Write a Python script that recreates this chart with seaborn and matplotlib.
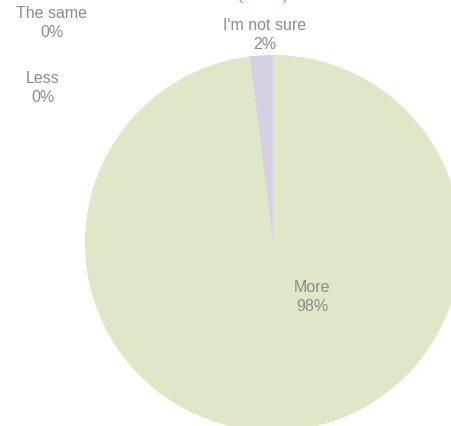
import matplotlib
matplotlib.use("Agg")
import matplotlib.pyplot as plt
import seaborn as sns

categories = ["More", "Less", "The same", "I'm not sure"]
values = [98, 0, 0, 2]
pct_labels = ["98%", "0%", "0%", "2%"]
colors = ["#dfe7c9", "#e8d5c4", "#cfe0ea", "#d7cfe2"]

sns.set_theme(style="white")
plt.rcParams["font.family"] = ["Liberation Sans", "DejaVu Sans"]

W, H = 451, 426
fig = plt.figure(figsize=(W / 100, H / 100), dpi=100)
ax = fig.add_axes([0, 0, 1, 1])

cx, cy, r = 273, 243, 188  # pixel centre / radius (from top)
ax.pie(values, colors=colors, startangle=90, counterclock=False,
       radius=1, center=(0, 0), wedgeprops=dict(linewidth=0))
ax.set_xlim((0 - cx) / r, (W - cx) / r)
ax.set_ylim((cy - H) / r, cy / r)
ax.set_aspect("equal")
ax.axis("off")

label_pos = {
    "More": (312, 297),
    "Less": (43, 88),
    "The same": (52, 23),
    "I'm not sure": (265, 35),
}
for cat, pl in zip(categories, pct_labels):
    px, py = label_pos[cat]
    fig.text(px / W, 1 - py / H, f"{cat}\n{pl}", ha="center", va="center",
             fontsize=11.5, color="#8c8c8c", linespacing=1.35)

# partially visible title at the very top
fig.text(263 / W, 1 + 1 / H, "(n=50)", ha="center", va="baseline",
         fontsize=13, color="#7aa6e6")

fig.savefig("out.png", dpi=100)
